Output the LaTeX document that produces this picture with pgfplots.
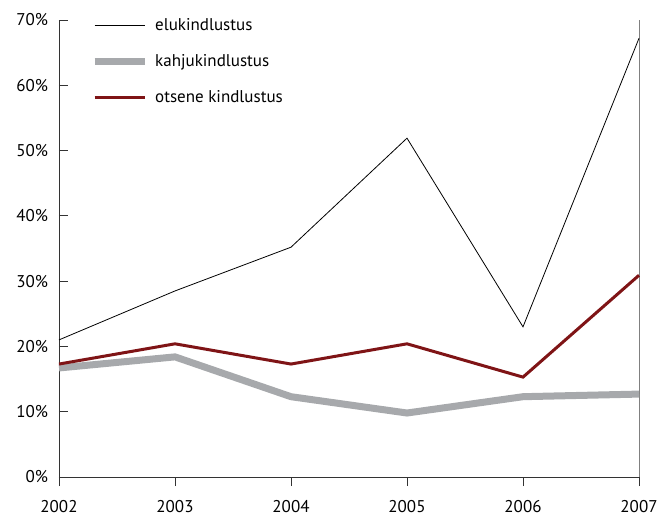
\documentclass[border=0pt]{standalone}
\usepackage{fontspec}
\setmainfont{PT Sans}
\usepackage{pgfplots}
\pgfplotsset{compat=1.18}
\definecolor{dred}{HTML}{7F1416}
\definecolor{lgray}{HTML}{A7A9AC}
\begin{document}
\fontsize{17bp}{20bp}\selectfont
\begin{tikzpicture}
\begin{axis}[
  scale only axis, width=580bp, height=457bp,
  xmin=2002, xmax=2007, ymin=0, ymax=70,
  axis lines*=left,
  axis line style={black!80, line width=0.8bp},
  xtick=\empty,
  extra x ticks={2002,2003,2004,2005,2006,2007},
  extra x tick style={tick align=outside, xticklabel style={yshift=-9bp}},
  ytick={0,10,...,70},
  /pgf/number format/1000 sep={},
  /pgf/number format/assume math mode=true,
  yticklabel={\pgfmathprintnumber{\tick}\%},
  tick align=inside,
  major tick length=9bp,
  every tick/.style={black!80, line width=0.8bp},
  yticklabel style={xshift=-5bp},
  legend cell align=left,
  legend style={draw=none, fill=none, at={(0.05,1)}, anchor=north west,
    yshift=6bp, row sep=17.5bp, column sep=5bp, font=\fontsize{17bp}{20bp}\selectfont},
  legend image code/.code={\draw[#1] (0bp,0bp) -- (50bp,0bp);},
  clip=false,
]
\draw[gray, line width=1bp] (axis cs:2007,0) -- (axis cs:2007,70);
\addplot[black, line width=0.8bp] coordinates {(2002,21.0) (2003,28.5) (2004,35.2) (2005,51.9) (2006,23.0) (2007,67.2)};
\addlegendentry{elukindlustus}
\addplot[lgray, line width=7bp] coordinates {(2002,16.7) (2003,18.4) (2004,12.3) (2005,9.8) (2006,12.3) (2007,12.7)};
\addlegendentry{kahjukindlustus}
\addplot[dred, line width=3bp] coordinates {(2002,17.3) (2003,20.4) (2004,17.3) (2005,20.4) (2006,15.3) (2007,30.9)};
\addlegendentry{otsene kindlustus}
\end{axis}
\pgfresetboundingbox
\path (current axis.south west) ++(-59bp,-40bp) rectangle ++(658bp,517bp);
\end{tikzpicture}
\end{document}
